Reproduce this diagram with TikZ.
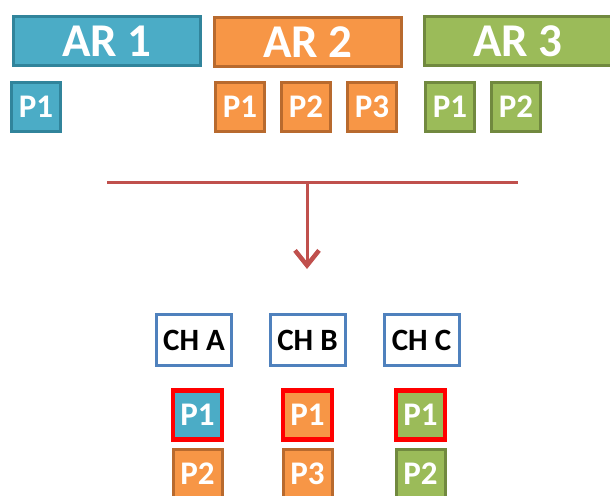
\documentclass[tikz,border=0pt]{standalone}
\usepackage{fontspec}
\setmainfont{Carlito}
\usepackage{tikz}
\usetikzlibrary{arrows.meta,positioning}
\definecolor{arMavi}{HTML}{4BACC6}
\definecolor{arMaviKenar}{HTML}{31849B}
\definecolor{arTuruncu}{HTML}{F79646}
\definecolor{arTuruncuKenar}{HTML}{B86A2E}
\definecolor{arYesil}{HTML}{9BBB59}
\definecolor{arYesilKenar}{HTML}{71893F}
\definecolor{chKenar}{HTML}{4F81BD}
\definecolor{okKirmizi}{HTML}{C0504D}
\definecolor{secKirmizi}{HTML}{FF0000}

\tikzset{
  arbox/.style={draw, line width=3pt, minimum width=187pt, minimum height=49pt,
    inner sep=0pt, text=white, font=\fontsize{47}{47}\selectfont\bfseries},
  pbox/.style={draw, line width=3pt, minimum width=49pt, minimum height=49pt,
    inner sep=0pt, text=white, font=\fontsize{33}{33}\selectfont\bfseries},
  chbox/.style={draw=chKenar, fill=white, line width=3pt, minimum width=75pt,
    minimum height=51pt, inner sep=0pt, font=\fontsize{31}{31}\selectfont\bfseries},
  secili/.style={draw=secKirmizi, line width=4.5pt},
}

\begin{document}
\begin{tikzpicture}[x=1pt,y=-1pt]
\useasboundingbox (0,0) rectangle (610,495);
\clip (0,0) rectangle (610,495);
% uygulamalar
\node[arbox,fill=arMavi,draw=arMaviKenar] (ar1) at (107,41) {AR 1};
\node[arbox,fill=arTuruncu,draw=arTuruncuKenar] (ar2) at (308,42) {AR 2};
\node[arbox,fill=arYesil,draw=arYesilKenar] (ar3) at (518,41) {AR 3};
\node[pbox,fill=arMavi,draw=arMaviKenar] (ar1p1) at (36,107) {P1};
\node[pbox,fill=arTuruncu,draw=arTuruncuKenar] (ar2p1) at (240,107) {P1};
\node[pbox,fill=arTuruncu,draw=arTuruncuKenar] (ar2p2) at (306,107) {P2};
\node[pbox,fill=arTuruncu,draw=arTuruncuKenar] (ar2p3) at (372,107) {P3};
\node[pbox,fill=arYesil,draw=arYesilKenar] (ar3p1) at (450,107) {P1};
\node[pbox,fill=arYesil,draw=arYesilKenar] (ar3p2) at (516,107) {P2};
% ok
\coordinate (solUc) at (107,182);
\coordinate (sagUc) at (518,182);
\coordinate (orta) at (307,182);
\coordinate (okUc) at (307,269);
\draw[okKirmizi,line width=3pt] (solUc)--(sagUc);
\draw[okKirmizi,line width=3pt,-{Straight Barb[length=15pt,width=24pt,line width=4.5pt]}] (orta)--(okUc);
% kanallar
\node[chbox] (cha) at (194,340) {CH A};
\node[chbox] (chb) at (307.5,340) {CH B};
\node[chbox] (chc) at (421.5,340) {CH C};
\node[pbox,fill=arMavi,secili] (chap1) at (197.5,415) {P1};
\node[pbox,fill=arTuruncu,secili] (chbp1) at (307.5,415) {P1};
\node[pbox,fill=arYesil,secili] (chcp1) at (420.5,415) {P1};
\node[pbox,fill=arTuruncu,draw=arTuruncuKenar] (chap2) at (197.5,474) {P2};
\node[pbox,fill=arTuruncu,draw=arTuruncuKenar] (chbp3) at (307.5,474) {P3};
\node[pbox,fill=arYesil,draw=arYesilKenar] (chcp2) at (420.5,474) {P2};
\end{tikzpicture}
\end{document}
